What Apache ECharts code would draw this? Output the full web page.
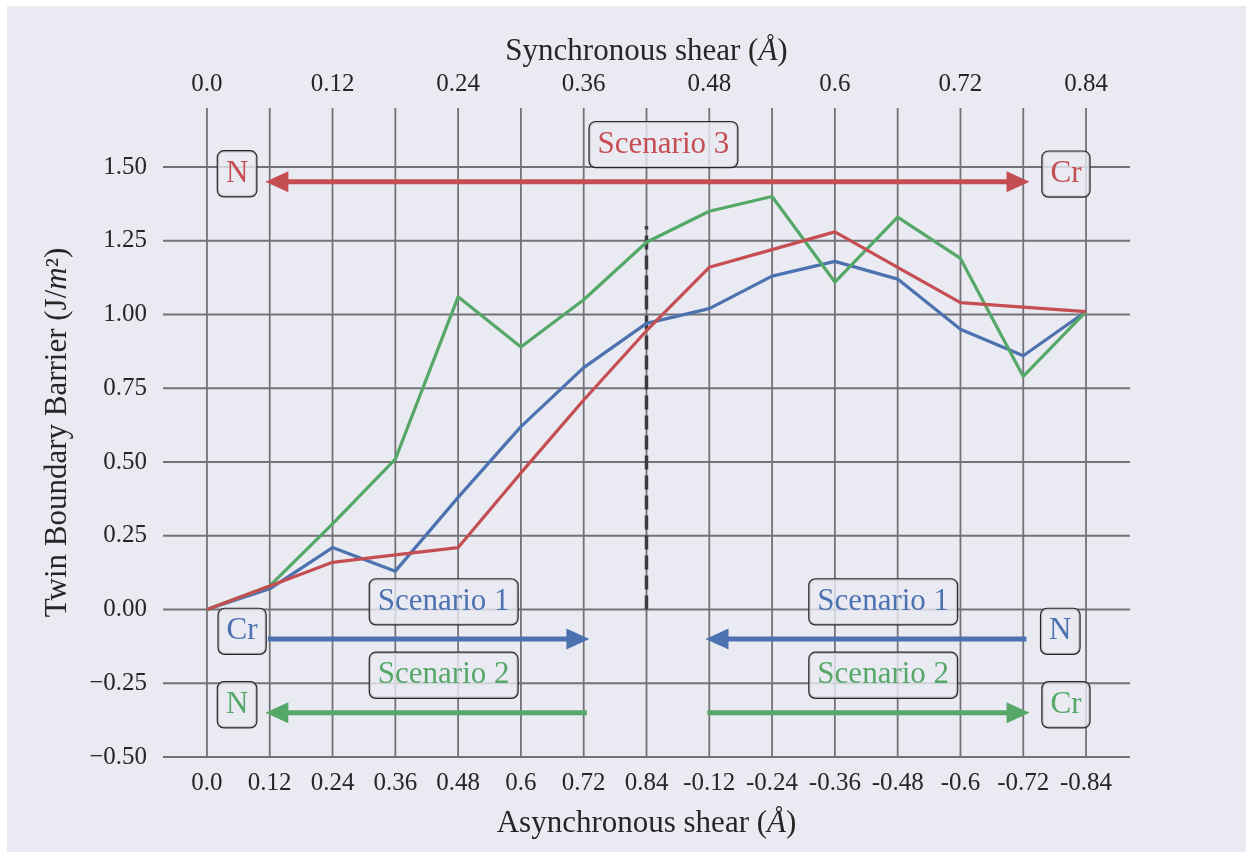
<!DOCTYPE html>
<html>
<head>
<meta charset="utf-8">
<script src="https://cdn.jsdelivr.net/npm/echarts@6/dist/echarts.min.js"></script>
<style>
  html, body { margin: 0; padding: 0; background: #ffffff; }
  #chart { position: absolute; left: 7px; top: 6px; width: 1239px; height: 846px; }
</style>
</head>
<body>
<div id="chart"></div>
<script>
// Shear steps along the path (index 0..14) and their labels
const asyncLabels = ['0.0', '0.12', '0.24', '0.36', '0.48', '0.6', '0.72', '0.84',
  '-0.12', '-0.24', '-0.36', '-0.48', '-0.6', '-0.72', '-0.84'];
const syncLabels = ['0.0', '0.12', '0.24', '0.36', '0.48', '0.6', '0.72', '0.84'];
const syncPositions = [0, 2, 4, 6, 8, 10, 12, 14];
const stepIndex = [0, 1, 2, 3, 4, 5, 6, 7, 8, 9, 10, 11, 12, 13, 14];
const barrierTicks = [-0.5, -0.25, 0, 0.25, 0.5, 0.75, 1.0, 1.25, 1.5];

// Twin boundary barrier (J/m^2) per scenario
const scenario1 = [0.0, 0.07, 0.21, 0.13, 0.38, 0.62, 0.82, 0.97, 1.02, 1.13, 1.18, 1.12, 0.95, 0.86, 1.01];
const scenario2 = [0.0, 0.08, 0.29, 0.51, 1.06, 0.89, 1.05, 1.245, 1.35, 1.40, 1.11, 1.33, 1.19, 0.79, 1.01];
const scenario3 = [0.0, 0.08, 0.16, 0.185, 0.21, 0.463, 0.71, 0.945, 1.16, 1.22, 1.28, 1.16, 1.04, 1.025, 1.01];

// Divider between the two shear halves
const dividerX = 7;
const dividerTop = 1.3;

// Direction arrows: tail x, tip x, level, double-headed
const arrowTail = [0.93, 0.97, 13.05, 6.05, 7.97];
const arrowTip = [13.1, 6.09, 7.94, 0.93, 13.1];
const arrowLevel = [1.45, -0.1, -0.1, -0.35, -0.35];
const arrowDouble = [true, false, false, false, false];
const arrowColor = ['#C44E52', '#4C72B0', '#4C72B0', '#55A868', '#55A868'];

// Boxed labels
const boxText = ['N', 'Cr', 'Scenario 3', 'Scenario 1', 'Cr', 'Scenario 1', 'N', 'Scenario 2', 'N', 'Scenario 2', 'Cr'];
const boxX = [0.48, 13.68, 7.27, 3.77, 0.56, 10.77, 13.59, 3.77, 0.48, 10.77, 13.68];
const boxY = [1.477, 1.476, 1.576, 0.026, -0.074, 0.026, -0.074, -0.223, -0.323, -0.223, -0.323];
const boxColor = ['#C44E52', '#C44E52', '#C44E52', '#4C72B0', '#4C72B0', '#4C72B0', '#4C72B0',
  '#55A868', '#55A868', '#55A868', '#55A868'];

const X_MIN = -0.7, X_MAX = 14.7, Y_MIN = -0.5, Y_MAX = 1.7;
const FONT = "'Liberation Serif', 'DejaVu Serif', serif";
const TEXT = '#262626';
const GRID = '#727277';

const chart = echarts.init(document.getElementById('chart'), null, { renderer: 'canvas' });

const italicRich = {
  i: { fontStyle: 'italic', fontFamily: FONT, fontSize: 31, color: TEXT }
};

const option = {
  backgroundColor: '#EAEAF2',
  animation: false,
  grid: { left: 156, top: 102, width: 967, height: 649, containLabel: false },
  xAxis: [
    {
      type: 'value', min: X_MIN, max: X_MAX, position: 'bottom',
      name: 'Asynchronous shear ({i|Å})', nameLocation: 'middle', nameGap: 51,
      nameTextStyle: { fontFamily: FONT, fontSize: 31, color: TEXT, rich: italicRich },
      axisLine: { show: false }, axisTick: { show: false }, splitLine: { show: false },
      axisLabel: {
        customValues: stepIndex, margin: 14,
        fontFamily: FONT, fontSize: 25, color: TEXT,
        formatter: v => asyncLabels[Math.round(v)]
      }
    },
    {
      type: 'value', min: X_MIN, max: X_MAX, position: 'top',
      name: 'Synchronous shear ({i|Å})', nameLocation: 'middle', nameGap: 36,
      nameTextStyle: { fontFamily: FONT, fontSize: 31, color: TEXT, rich: italicRich },
      axisLine: { show: false }, axisTick: { show: false }, splitLine: { show: false },
      axisLabel: {
        customValues: syncPositions, margin: 11,
        fontFamily: FONT, fontSize: 25, color: TEXT,
        formatter: v => syncLabels[Math.round(v / 2)]
      }
    }
  ],
  yAxis: {
    type: 'value', min: Y_MIN, max: Y_MAX,
    name: 'Twin Boundary Barrier (J/{i|m}²)', nameLocation: 'middle', nameGap: 90,
    nameTextStyle: { fontFamily: FONT, fontSize: 31, color: TEXT, rich: italicRich },
    axisLine: { show: false }, axisTick: { show: false }, splitLine: { show: false },
    axisLabel: {
      customValues: barrierTicks, margin: 16,
      fontFamily: FONT, fontSize: 25, color: TEXT,
      formatter: v => (v < 0 ? '\u2212' : '') + Math.abs(v).toFixed(2)
    }
  },
  series: [
    // vertical grid lines at each shear step
    {
      type: 'custom', z: 0, silent: true,
      data: stepIndex.map(v => [v, Y_MIN]),
      encode: { x: 0, y: 1 },
      renderItem: (params, api) => {
        const a = api.coord([api.value(0), Y_MIN]);
        const b = api.coord([api.value(0), Y_MAX]);
        return { type: 'line', shape: { x1: a[0], y1: a[1], x2: b[0], y2: b[1] },
          style: { stroke: GRID, lineWidth: 1.8 } };
      }
    },
    // horizontal grid lines at each barrier tick
    {
      type: 'custom', z: 0, silent: true,
      data: barrierTicks.map(v => [X_MIN, v]),
      encode: { x: 0, y: 1 },
      renderItem: (params, api) => {
        const a = api.coord([X_MIN, api.value(1)]);
        const b = api.coord([X_MAX, api.value(1)]);
        return { type: 'line', shape: { x1: a[0], y1: a[1], x2: b[0], y2: b[1] },
          style: { stroke: GRID, lineWidth: 1.8 } };
      }
    },
    // dashed divider
    {
      type: 'line', z: 1, silent: true, showSymbol: false,
      data: [[dividerX, 0], [dividerX, dividerTop]],
      lineStyle: { color: '#3a3a3f', width: 3.5, type: [14, 6] }
    },
    {
      name: 'Scenario 1', type: 'line', z: 2, showSymbol: false, silent: true,
      data: stepIndex.map((x, i) => [x, scenario1[i]]),
      lineStyle: { color: '#4C72B0', width: 3.2 }
    },
    {
      name: 'Scenario 2', type: 'line', z: 2, showSymbol: false, silent: true,
      data: stepIndex.map((x, i) => [x, scenario2[i]]),
      lineStyle: { color: '#55A868', width: 3.2 }
    },
    {
      name: 'Scenario 3', type: 'line', z: 2, showSymbol: false, silent: true,
      data: stepIndex.map((x, i) => [x, scenario3[i]]),
      lineStyle: { color: '#C44E52', width: 3.2 }
    },
    // direction arrows
    {
      type: 'custom', z: 3, silent: true,
      data: arrowTail.map((t, i) => [t, arrowTip[i], arrowLevel[i]]),
      encode: { x: [0, 1], y: 2 },
      renderItem: (params, api) => {
        const i = params.dataIndex;
        const p0 = api.coord([api.value(0), api.value(2)]);
        const p1 = api.coord([api.value(1), api.value(2)]);
        const dir = Math.sign(p1[0] - p0[0]);
        const L = 23, H = 10.5, color = arrowColor[i];
        const children = [];
        let s0 = p0[0];
        const s1 = p1[0] - dir * L * 0.8;
        if (arrowDouble[i]) {
          s0 = p0[0] + dir * L * 0.8;
          children.push({ type: 'polygon',
            shape: { points: [[p0[0], p0[1]], [p0[0] + dir * L, p0[1] - H], [p0[0] + dir * L, p0[1] + H]] },
            style: { fill: color } });
        }
        children.push({ type: 'line', shape: { x1: s0, y1: p0[1], x2: s1, y2: p1[1] },
          style: { stroke: color, lineWidth: 5 } });
        children.push({ type: 'polygon',
          shape: { points: [[p1[0], p1[1]], [p1[0] - dir * L, p1[1] - H], [p1[0] - dir * L, p1[1] + H]] },
          style: { fill: color } });
        return { type: 'group', children };
      }
    },
    // boxed labels
    {
      type: 'custom', z: 4, silent: true,
      data: boxX.map((x, i) => [x, boxY[i]]),
      encode: { x: 0, y: 1 },
      renderItem: (params, api) => {
        const i = params.dataIndex;
        const p = api.coord([api.value(0), api.value(1)]);
        return {
          type: 'text', x: p[0], y: p[1],
          style: {
            text: boxText[i], fill: boxColor[i], fontSize: 31, fontFamily: FONT,
            align: 'center', verticalAlign: 'middle',
            backgroundColor: 'rgba(234,234,242,0.8)', borderColor: '#262626',
            borderWidth: 1.2, borderRadius: 6, padding: [7, 8]
          }
        };
      }
    }
  ]
};

chart.setOption(option);
</script>
</body>
</html>
